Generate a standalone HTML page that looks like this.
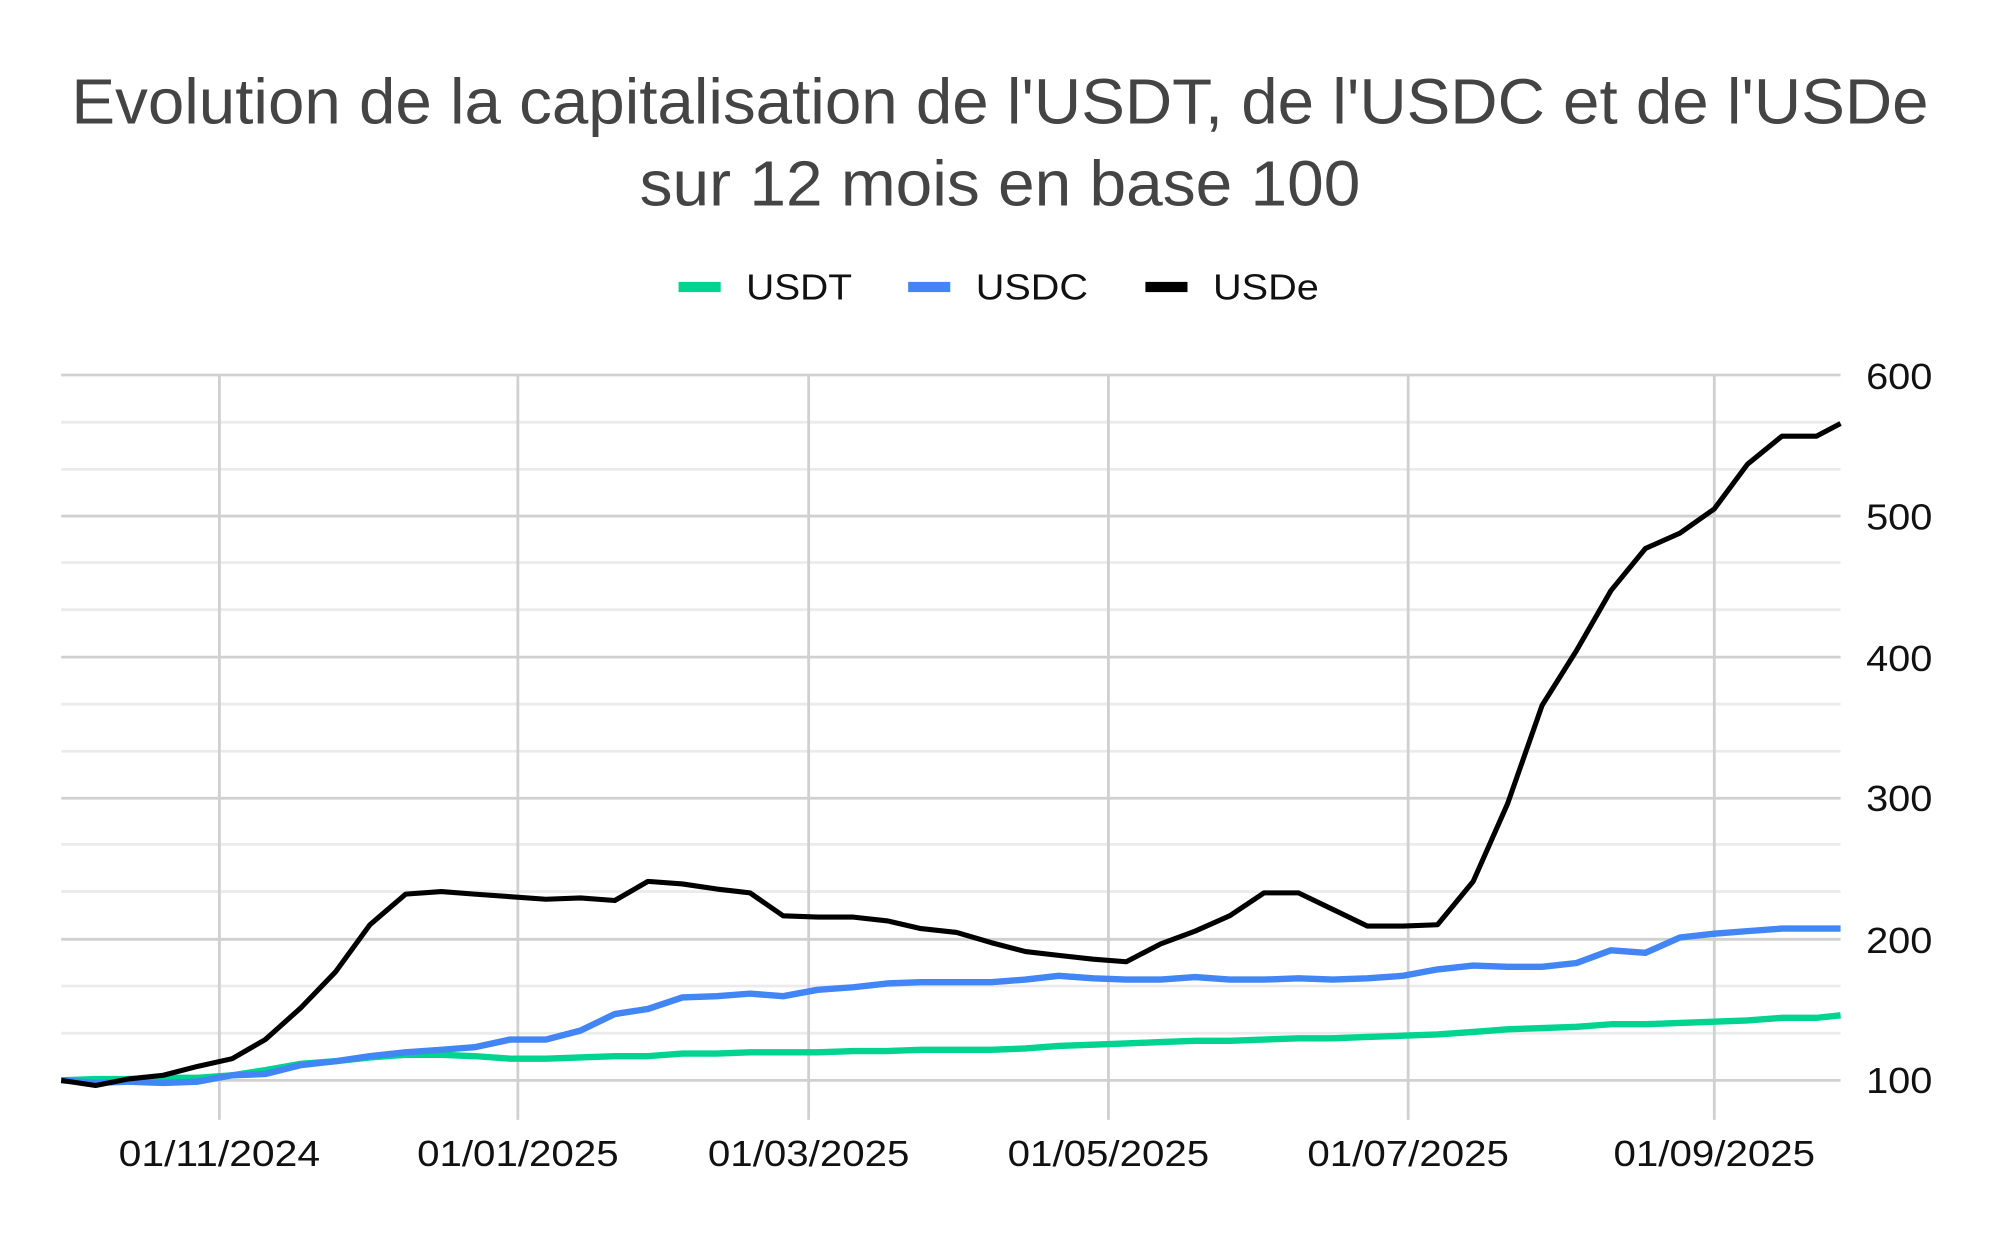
<!DOCTYPE html>
<html><head><meta charset="utf-8"><style>html,body{margin:0;padding:0;background:#fff}svg{display:block}</style></head>
<body>
<svg width="2000" height="1237" viewBox="0 0 1568 969.8" preserveAspectRatio="none" xmlns="http://www.w3.org/2000/svg" font-family="Liberation Sans, Arial, sans-serif">
<rect width="1568" height="970" fill="#fff"/>
<text x="784" y="97" font-size="50" fill="#444" text-anchor="middle" textLength="1456" lengthAdjust="spacingAndGlyphs">Evolution de la capitalisation de l'USDT, de l'USDC et de l'USDe</text>
<text x="784" y="161" font-size="50" fill="#444" text-anchor="middle" textLength="565" lengthAdjust="spacingAndGlyphs">sur 12 mois en base 100</text>
<g font-size="28" fill="#111">
<rect x="532" y="221" width="33" height="8" fill="#00d48f"/><text x="585" y="235" textLength="83" lengthAdjust="spacingAndGlyphs">USDT</text>
<rect x="712" y="221" width="33" height="8" fill="#4285f4"/><text x="765" y="235" textLength="88" lengthAdjust="spacingAndGlyphs">USDC</text>
<rect x="898" y="221" width="33" height="8" fill="#000"/><text x="951" y="235" textLength="83" lengthAdjust="spacingAndGlyphs">USDe</text>
</g>
<g stroke="#ebebeb" stroke-width="2.2">
<line x1="48" x2="1443" y1="331" y2="331"/><line x1="48" x2="1443" y1="368" y2="368"/>
<line x1="48" x2="1443" y1="441" y2="441"/><line x1="48" x2="1443" y1="478" y2="478"/>
<line x1="48" x2="1443" y1="552" y2="552"/><line x1="48" x2="1443" y1="589" y2="589"/>
<line x1="48" x2="1443" y1="662" y2="662"/><line x1="48" x2="1443" y1="699" y2="699"/>
<line x1="48" x2="1443" y1="773" y2="773"/><line x1="48" x2="1443" y1="810" y2="810"/>
</g>
<g stroke="#d0d0d0" stroke-width="2.2">
<line x1="48" x2="1443" y1="294" y2="294"/><line x1="48" x2="1443" y1="404.6" y2="404.6"/>
<line x1="48" x2="1443" y1="515.2" y2="515.2"/><line x1="48" x2="1443" y1="625.8" y2="625.8"/>
<line x1="48" x2="1443" y1="736.4" y2="736.4"/><line x1="48" x2="1443" y1="847" y2="847"/>
<line x1="172" x2="172" y1="294" y2="878"/><line x1="406" x2="406" y1="294" y2="878"/>
<line x1="634" x2="634" y1="294" y2="878"/><line x1="869" x2="869" y1="294" y2="878"/>
<line x1="1104" x2="1104" y1="294" y2="878"/><line x1="1344" x2="1344" y1="294" y2="878"/>
</g>
<g font-size="28" fill="#111">
<text x="1463" y="305" textLength="52" lengthAdjust="spacingAndGlyphs">600</text><text x="1463" y="415" textLength="52" lengthAdjust="spacingAndGlyphs">500</text><text x="1463" y="526" textLength="52" lengthAdjust="spacingAndGlyphs">400</text>
<text x="1463" y="636" textLength="52" lengthAdjust="spacingAndGlyphs">300</text><text x="1463" y="747" textLength="52" lengthAdjust="spacingAndGlyphs">200</text><text x="1463" y="857" textLength="52" lengthAdjust="spacingAndGlyphs">100</text>
</g>
<g font-size="28" fill="#111" text-anchor="middle">
<text x="172" y="914" textLength="158" lengthAdjust="spacingAndGlyphs">01/11/2024</text><text x="406" y="914" textLength="158" lengthAdjust="spacingAndGlyphs">01/01/2025</text><text x="634" y="914" textLength="158" lengthAdjust="spacingAndGlyphs">01/03/2025</text>
<text x="869" y="914" textLength="158" lengthAdjust="spacingAndGlyphs">01/05/2025</text><text x="1104" y="914" textLength="158" lengthAdjust="spacingAndGlyphs">01/07/2025</text><text x="1344" y="914" textLength="158" lengthAdjust="spacingAndGlyphs">01/09/2025</text>
</g>
<g fill="none" stroke-linejoin="round">
<polyline stroke="#00d48f" stroke-width="5" points="48,847 75,846 100,846 128,845 155,845 182,843 208,839 236,834 263,832 290,829 318,827 346,827 372,828 400,830 428,830 455,829 482,828 508,828 535,826 562,826 588,825 614,825 641,825 669,824 696,824 722,823 750,823 777,823 804,822 830,820 857,819 883,818 910,817 937,816 964,816 991,815 1018,814 1045,814 1072,813 1100,812 1127,811 1155,809 1182,807 1209,806 1236,805 1263,803 1290,803 1317,802 1344,801 1370,800 1397,798 1424,798 1443,796"/>
<polyline stroke="#4285f4" stroke-width="5" points="48,847 75,849 100,848 128,849 155,848 182,843 208,842 236,835 263,832 290,828 318,825 346,823 372,821 400,815 428,815 455,808 482,795 508,791 535,782 562,781 588,779 614,781 641,776 669,774 696,771 722,770 750,770 777,770 804,768 830,765 857,767 883,768 910,768 937,766 964,768 991,768 1018,767 1045,768 1072,767 1100,765 1127,760 1155,757 1182,758 1209,758 1236,755 1263,745 1290,747 1317,735 1344,732 1370,730 1397,728 1424,728 1443,728"/>
<polyline stroke="#000" stroke-width="4" points="48,847 75,851 100,846 128,843 155,836 182,830 208,815 236,790 263,762 290,725 318,701 346,699 372,701 400,703 428,705 455,704 482,706 508,691 535,693 562,697 588,700 614,718 641,719 669,719 696,722 722,728 750,731 777,739 804,746 830,749 857,752 883,754 910,740 937,730 964,718 991,700 1018,700 1045,713 1072,726 1100,726 1127,725 1155,691 1182,630 1209,553 1236,510 1263,463 1290,430 1317,418 1344,399 1370,364 1397,342 1424,342 1443,332"/>
</g>
</svg>
</body></html>
